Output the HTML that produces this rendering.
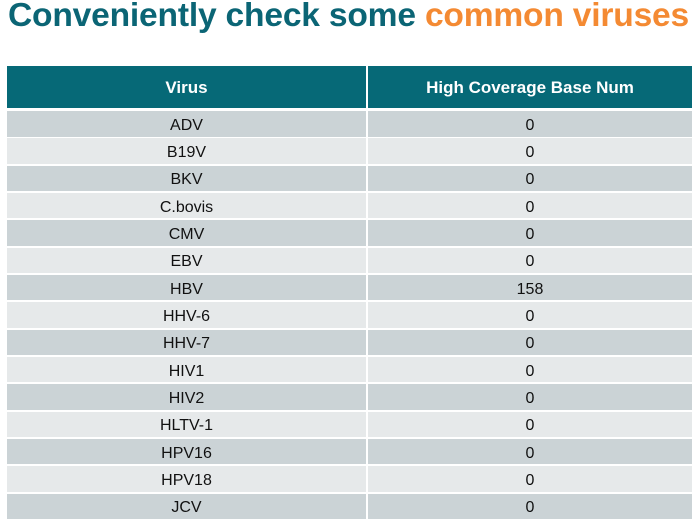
<!DOCTYPE html><html><head><style>
body{margin:0;width:696px;height:530px;background:#fff;position:relative;overflow:hidden;font-family:"Liberation Sans",Arial,sans-serif}
.t{position:absolute;left:8px;top:-3px;font-size:33.6px;font-weight:bold;color:#0b6575;white-space:nowrap;letter-spacing:-0.2px}
.t span{color:#f48a33}
.c{position:absolute;display:flex;align-items:center;justify-content:center;font-size:16px;color:#111;box-sizing:border-box;padding-top:4px}
.h{background:#066977;color:#fff;font-weight:bold;font-size:17px;padding-top:2px}
</style></head><body>
<div class="t">Conveniently check some <span>common viruses</span></div>
<div class="c h" style="left:7px;top:66px;width:359px;height:42px">Virus</div>
<div class="c h" style="left:368px;top:66px;width:324px;height:42px">High Coverage Base Num</div>
<div id="r"></div>
<script>
var v=[["ADV",0],["B19V",0],["BKV",0],["C.bovis",0],["CMV",0],["EBV",0],["HBV",158],["HHV-6",0],["HHV-7",0],["HIV1",0],["HIV2",0],["HLTV-1",0],["HPV16",0],["HPV18",0],["JCV",0]];
var h="";for(var i=0;i<v.length;i++){var t=111+i*27.33,bg=i%2?"#e6e9ea":"#cbd3d6";
h+='<div class="c" style="left:7px;top:'+t+'px;width:359px;height:25.5px;background:'+bg+'">'+v[i][0]+'</div>';
h+='<div class="c" style="left:368px;top:'+t+'px;width:324px;height:25.5px;background:'+bg+'">'+v[i][1]+'</div>';}
document.getElementById("r").innerHTML=h;
</script>
</body></html>
